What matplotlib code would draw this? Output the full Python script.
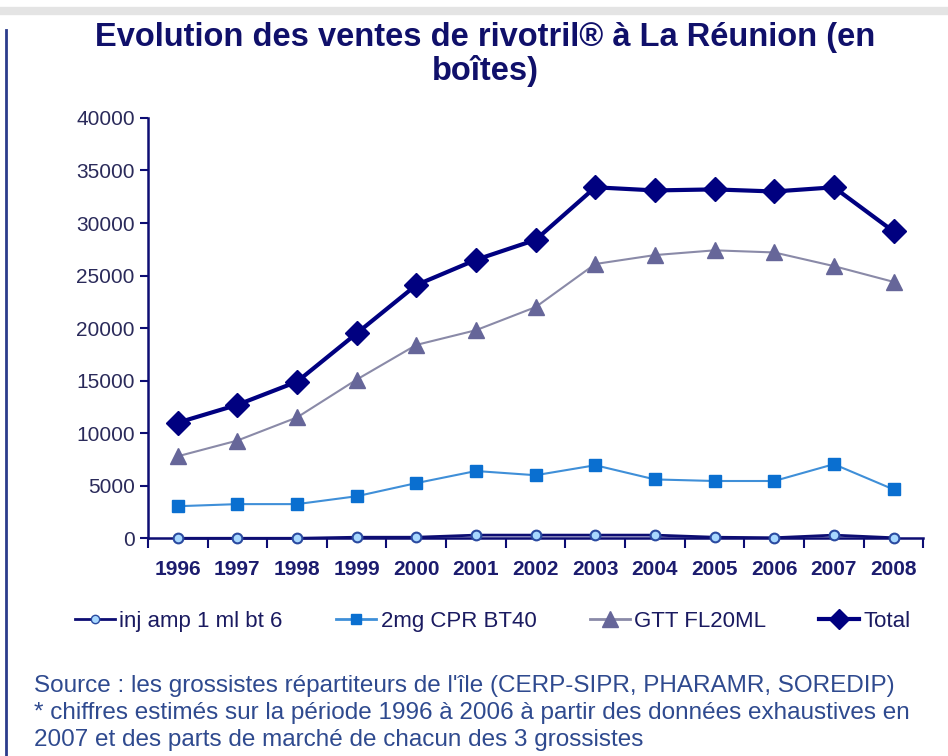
import matplotlib
matplotlib.use("Agg")
import matplotlib.pyplot as plt
from matplotlib.lines import Line2D

# Ventes de rivotril a La Reunion (en boites)
years = ["1996", "1997", "1998", "1999", "2000", "2001", "2002",
         "2003", "2004", "2005", "2006", "2007", "2008"]
inj = [0, 0, 0, 100, 100, 300, 300, 300, 300, 100, 50, 300, 50]
cpr = [3050, 3250, 3250, 4000, 5250, 6400, 6000, 6950, 5600, 5450, 5450, 7050, 4650]
gtt = [7800, 9300, 11500, 15100, 18400, 19800, 22000, 26100, 26950, 27400, 27200, 25900, 24400]
total = [11000, 12700, 14900, 19500, 24100, 26500, 28400, 33400, 33100, 33200, 33000, 33400, 29200]
yticks = [0, 5000, 10000, 15000, 20000, 25000, 30000, 35000, 40000]

navy = "#0d0d73"
txt = "#1c1c6e"
plt.rcParams['font.family'] = ['Liberation Sans', 'DejaVu Sans']

fig = plt.figure(figsize=(9.48, 7.56), dpi=100)
ax = fig.add_axes([0.156, 0.288, 0.818, 0.556])

x = list(range(len(years)))
ax.plot(x, gtt, color="#8a8aa8", lw=1.5, marker="^", ms=12,
        mfc="#666699", mec="#666699", label="GTT FL20ML", zorder=3)
ax.plot(x, cpr, color="#3f8fd8", lw=1.5, marker="s", ms=8,
        mfc="#0a6fd0", mec="#0a6fd0", label="2mg CPR BT40", zorder=3)
ax.plot(x, total, color="#000080", lw=3, marker="D", ms=12,
        mfc="#000080", mec="#000080", label="Total", zorder=4)
ax.plot(x, inj, color=navy, lw=2, marker="o", ms=7,
        mfc="#a8d8ff", mec="#2a4aa0", mew=1.5, label="inj amp 1 ml bt 6",
        zorder=5, clip_on=False)

ax.set_xlim(-0.5, len(years) - 0.5)
ax.set_ylim(0, 40000)
ax.set_yticks(yticks)
ax.set_yticklabels([str(v) for v in yticks], fontsize=15, color="#2a2a5a")
ax.set_xticks([i - 0.5 for i in range(len(years) + 1)], minor=False)
ax.set_xticklabels([])
ax.set_xticks(x, minor=True)
ax.set_xticklabels(years, minor=True, fontsize=15, fontweight="bold", color=txt)
ax.tick_params(axis="x", which="minor", length=0, pad=16)
ax.tick_params(axis="x", which="major", length=7, color=navy, width=1.5, direction="out")
ax.tick_params(axis="y", length=6, color=navy, width=1.5)
for s in ["top", "right"]:
    ax.spines[s].set_visible(False)
ax.spines["left"].set_color(navy)
ax.spines["bottom"].set_color(navy)
ax.spines["left"].set_linewidth(1.8)
ax.spines["bottom"].set_linewidth(1.8)

fig.text(0.512, 0.950, "Evolution des ventes de rivotril® à La Réunion (en",
         ha="center", va="center", fontsize=23.5, fontweight="bold", color="#10106a")
fig.text(0.512, 0.906, "boîtes)", ha="center", va="center",
         fontsize=23.5, fontweight="bold", color="#10106a")

handles = [
    Line2D([], [], color=navy, lw=2, marker="o", ms=6, mfc="#a8d8ff", mec="#2a4aa0"),
    Line2D([], [], color="#3f8fd8", lw=2, marker="s", ms=7, mfc="#0a6fd0", mec="#0a6fd0"),
    Line2D([], [], color="#8a8aa8", lw=2, marker="^", ms=11, mfc="#666699", mec="#666699"),
    Line2D([], [], color="#000080", lw=3, marker="D", ms=10, mfc="#000080", mec="#000080"),
]
labels = ["inj amp 1 ml bt 6", "2mg CPR BT40", "GTT FL20ML", "Total"]
fig.legend(handles, labels, loc="center", bbox_to_anchor=(0.52, 0.178), ncol=4,
           frameon=False, handlelength=1.8, handletextpad=0.2,
           columnspacing=2.4, labelcolor="#1a1a60", fontsize=16)

src = ("Source : les grossistes répartiteurs de l'île (CERP-SIPR, PHARAMR, SOREDIP)\n"
       "* chiffres estimés sur la période 1996 à 2006 à partir des données exhaustives en\n"
       "2007 et des parts de marché de chacun des 3 grossistes")
fig.text(0.036, 0.006, src, ha="left", va="bottom", fontsize=17.5,
         color="#2f4a8f", linespacing=1.3)

# left border and top shadow of the original frame
fig.add_artist(Line2D([0.006, 0.006], [0.0, 0.96], transform=fig.transFigure,
                      color="#2c3c8c", lw=2))
fig.add_artist(Line2D([0.0, 1.0], [0.985, 0.985], transform=fig.transFigure,
                      color="#e4e4e4", lw=6))

fig.savefig("out.png", dpi=100)
